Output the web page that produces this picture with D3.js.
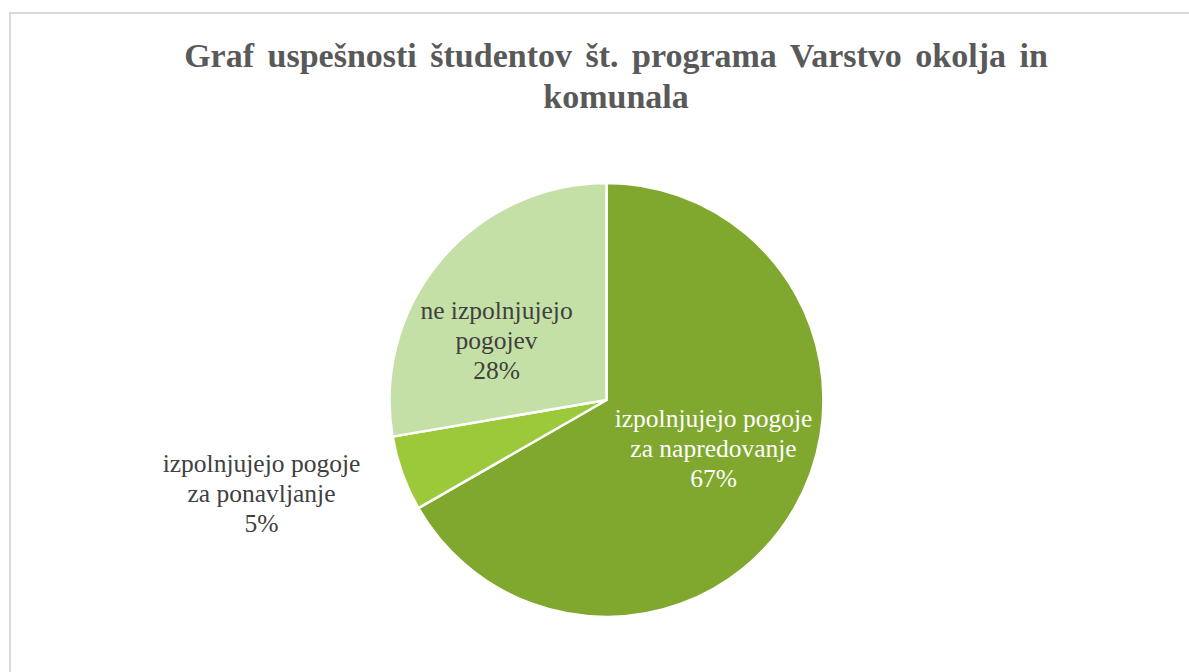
<!DOCTYPE html>
<html>
<head>
<meta charset="utf-8">
<script src="https://cdn.jsdelivr.net/npm/d3@7"></script>
<style>
  body { margin: 0; background: #fff; }
  svg { display: block; }
  svg text { font-family: 'Liberation Serif', 'Times New Roman', Times, serif; }
</style>
</head>
<body>
<svg id="chart"></svg>
<script>
var width = 1189,
    height = 672;

// data (share of the circle, in %)
var categories = ['izpolnjujejo pogoje za napredovanje', 'izpolnjujejo pogoje za ponavljanje', 'ne izpolnjujejo pogojev'];
var shares = [66.7, 5.6, 27.7];
var pctLabels = ['67%', '5%', '28%'];
var labelLines = [
  ['izpolnjujejo pogoje', 'za napredovanje'],
  ['izpolnjujejo pogoje', 'za ponavljanje'],
  ['ne izpolnjujejo', 'pogojev']
];
var colors = ['#80a82e', '#9bc93a', '#c5e0a6'];
var textColors = ['#ffffff', '#404040', '#404040'];
// label block centre, relative to pie centre
var labelOffsets = [[107, 49], [-345, 94], [-110, -59]];

var titleLines = ['Graf uspešnosti študentov št. programa Varstvo okolja in', 'komunala'];

var cx = 606.5, cy = 400, radius = 217;

var svg = d3.select('#chart')
            .attr('width', width)
            .attr('height', height);

// chart area border
svg.append('rect')
    .attr('x', 10)
    .attr('y', 13)
    .attr('width', width)
    .attr('height', height)
    .attr('fill', '#fff')
    .attr('stroke', '#d9d9d9')
    .attr('stroke-width', 2);

// title
svg.append('g')
    .selectAll('text')
    .data(titleLines)
    .enter()
    .append('text')
      .attr('x', 616)
      .attr('y', (d, i) => 67 + i * 41)
      .attr('text-anchor', 'middle')
      .style('font-weight', 'bold')
      .style('font-size', '34px')
      .attr('fill', '#595959')
      .style('word-spacing', (d, i) => i === 0 ? '5px' : '0px')
      .text(d => d);

var pie = d3.pie()
            .sort(null);

var arc = d3.arc()
            .innerRadius(0)
            .outerRadius(radius);

var g = svg.append('g')
           .attr('transform', 'translate(' + cx + ',' + cy + ')');

g.selectAll('.slice')
  .data(pie(shares))
  .enter()
  .append('path')
    .classed('slice', true)
    .attr('fill', (d, i) => colors[i])
    .attr('stroke', '#fff')
    .attr('stroke-width', 2.5)
    .attr('stroke-linejoin', 'round')
    .attr('d', arc);

var labels = g.selectAll('.lbl')
  .data(categories)
  .enter()
  .append('text')
    .classed('lbl', true)
    .attr('text-anchor', 'middle')
    .style('font-size', '25.5px')
    .attr('fill', (d, i) => textColors[i])
    .attr('transform', (d, i) => 'translate(' + labelOffsets[i][0] + ',' + labelOffsets[i][1] + ')');

labels.each(function(d, i) {
  var lines = labelLines[i].concat([pctLabels[i]]);
  var t = d3.select(this);
  lines.forEach(function(line, j) {
    t.append('tspan')
      .attr('x', 0)
      .attr('y', (j - 1) * 30 + 8)
      .text(line);
  });
});
</script>
</body>
</html>
